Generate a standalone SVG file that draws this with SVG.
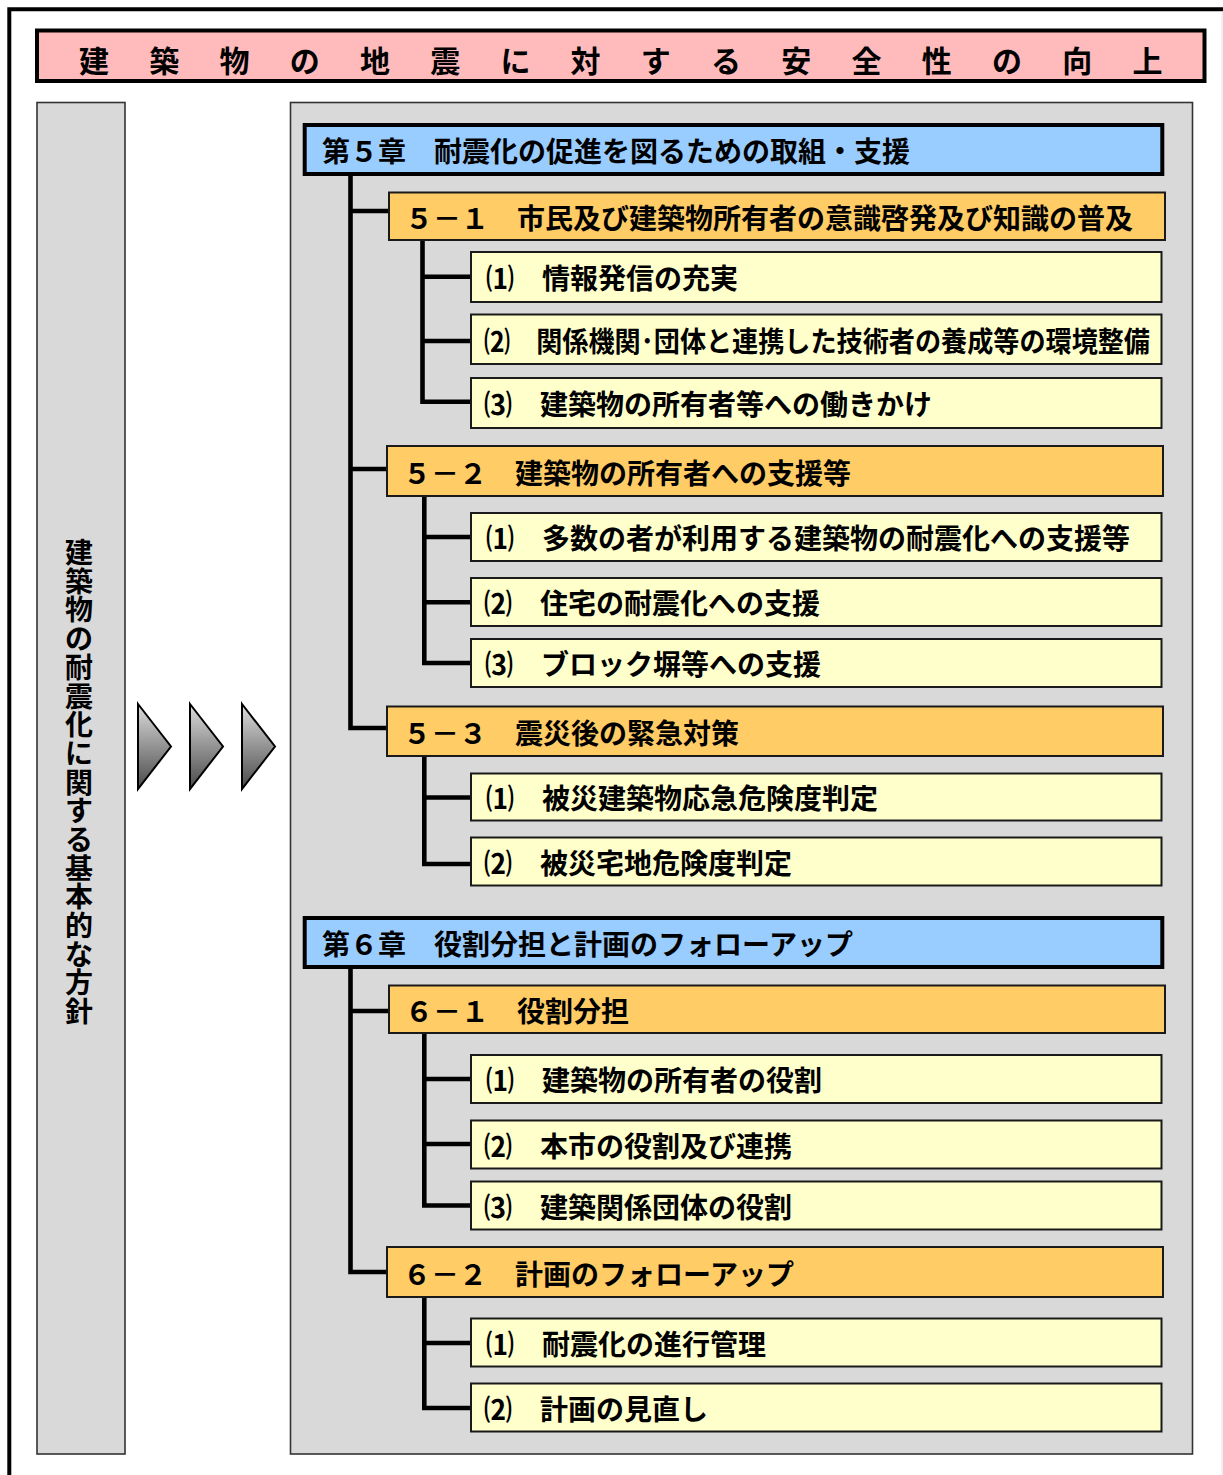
<svg xmlns="http://www.w3.org/2000/svg" width="1223" height="1475" viewBox="0 0 1223 1475">
<defs>
<style>
.t{font-family:"Noto Sans CJK JP","Noto Sans CJK SC",sans-serif;font-weight:700;fill:#000;dominant-baseline:central;}
.f28{font-size:28px;}
.ch{fill:#99CCFF;stroke:#000;stroke-width:4;}
.sec{fill:#FFCC66;stroke:#1a1a1a;stroke-width:2;}
.it{fill:#FFFFCC;stroke:#1a1a1a;stroke-width:2;}
.gray{fill:#D9D9D9;stroke:#333;stroke-width:1.6;}
.conn{fill:none;stroke:#000;stroke-width:4.6;stroke-linejoin:miter;stroke-linecap:butt;}
.tri{fill:url(#triGrad);stroke:#000;stroke-width:2;stroke-linejoin:miter;}
</style>
<linearGradient id="triGrad" x1="0" y1="0" x2="0" y2="1">
<stop offset="0" stop-color="#DCDCDC"/>
<stop offset="1" stop-color="#4A4A4A"/>
</linearGradient>
</defs>
<rect x="0" y="0" width="1223" height="1475" fill="#FFFFFF"/>
<path d="M9.3,1475 V9.3 H1223" fill="none" stroke="#000" stroke-width="4"/>
<line x1="1222" y1="11" x2="1222" y2="1475" stroke="#E2E2E2" stroke-width="1"/>

<g id="title">
<rect x="37" y="30.5" width="1167.5" height="50.5" fill="#FFBBBB" stroke="#000" stroke-width="4"/>
<text class="t" font-size="30" text-anchor="middle" y="59" x="94 164.2 234.5 304.7 374.9 445.2 515.4 585.6 655.8 726.1 796.3 866.5 936.8 1007 1077.2 1147.5">建築物の地震に対する安全性の向上</text>
</g>

<g id="policy">
<rect class="gray" x="37" y="102.5" width="88" height="1351.5"/>
<text class="t f28" text-anchor="middle" x="79 79 79 79 79 79 79 79 79 79 79 79 79 79 79 79 79" y="551 579.7 608.4 637.1 665.8 694.5 723.1 751.8 780.5 809.2 837.9 866.6 895.3 924 952.7 981.4 1010">建築物の耐震化に関する基本的な方針</text>
</g>

<g id="arrows">
<polygon class="tri" points="138,704 171,746.5 138,789"/>
<polygon class="tri" points="190,704 223,746.5 190,789"/>
<polygon class="tri" points="242,704 275,746.5 242,789"/>
</g>

<g id="panel">
<rect class="gray" x="290.5" y="102.5" width="902" height="1351.5"/>
</g>

<g id="connectors">
<path class="conn" d="M350.5,174 V728 H388"/>
<path class="conn" d="M350.5,211 H390"/>
<path class="conn" d="M350.5,469 H388"/>
<path class="conn" d="M422.5,240 V401.7 H471"/>
<path class="conn" d="M422.5,276.7 H471"/>
<path class="conn" d="M422.5,341 H471"/>
<path class="conn" d="M424.3,496 V663 H471"/>
<path class="conn" d="M424.3,537 H471"/>
<path class="conn" d="M424.3,602.3 H471"/>
<path class="conn" d="M424.3,756 V864 H471"/>
<path class="conn" d="M424.3,797.5 H471"/>
<path class="conn" d="M350.5,967 V1272 H388"/>
<path class="conn" d="M350.5,1011 H390"/>
<path class="conn" d="M424.3,1033 V1205.5 H471"/>
<path class="conn" d="M424.3,1079 H471"/>
<path class="conn" d="M424.3,1144 H471"/>
<path class="conn" d="M424.3,1297 V1408 H471"/>
<path class="conn" d="M424.3,1343 H471"/>
</g>

<g id="ch5">
<rect class="ch" x="304.7" y="125" width="857.6" height="49"/>
<text class="t f28" x="322" y="150">第５章　耐震化の促進を図るための取組・支援</text>
</g>
<g id="s5-1">
<rect class="sec" x="389" y="192.5" width="776" height="47.5"/>
<text class="t f28" x="405" y="217">５－１　市民及び建築物所有者の意識啓発及び知識の普及</text>
</g>
<g id="s5-1-1">
<rect class="it" x="471" y="252" width="690.5" height="50"/>
<text class="t f28" x="486" y="277">⑴　情報発信の充実</text>
</g>
<g id="s5-1-2">
<rect class="it" x="471" y="314.5" width="690.5" height="49.5"/>
<text class="t f28" x="484" y="339.5" textLength="666" lengthAdjust="spacingAndGlyphs">⑵　関係機関･団体と連携した技術者の養成等の環境整備</text>
</g>
<g id="s5-1-3">
<rect class="it" x="471" y="378" width="690.5" height="50"/>
<text class="t f28" x="484" y="403">⑶　建築物の所有者等への働きかけ</text>
</g>
<g id="s5-2">
<rect class="sec" x="387" y="446" width="776" height="50"/>
<text class="t f28" x="403" y="471.5">５－２　建築物の所有者への支援等</text>
</g>
<g id="s5-2-1">
<rect class="it" x="471" y="513" width="690.5" height="48"/>
<text class="t f28" x="486" y="537">⑴　多数の者が利用する建築物の耐震化への支援等</text>
</g>
<g id="s5-2-2">
<rect class="it" x="471" y="578" width="690.5" height="48"/>
<text class="t f28" x="484" y="602">⑵　住宅の耐震化への支援</text>
</g>
<g id="s5-2-3">
<rect class="it" x="471" y="639" width="690.5" height="48"/>
<text class="t f28" x="485" y="663">⑶　ブロック塀等への支援</text>
</g>
<g id="s5-3">
<rect class="sec" x="387" y="706.5" width="776" height="49.5"/>
<text class="t f28" x="403" y="731.5">５－３　震災後の緊急対策</text>
</g>
<g id="s5-3-1">
<rect class="it" x="471" y="773.5" width="690.5" height="47"/>
<text class="t f28" x="486" y="797">⑴　被災建築物応急危険度判定</text>
</g>
<g id="s5-3-2">
<rect class="it" x="471" y="837.5" width="690.5" height="48"/>
<text class="t f28" x="484" y="861.5">⑵　被災宅地危険度判定</text>
</g>

<g id="ch6">
<rect class="ch" x="304.7" y="918" width="857.6" height="49"/>
<text class="t f28" x="322" y="943">第６章　役割分担と計画のフォローアップ</text>
</g>
<g id="s6-1">
<rect class="sec" x="389" y="985.5" width="776" height="47.5"/>
<text class="t f28" x="405" y="1010">６－１　役割分担</text>
</g>
<g id="s6-1-1">
<rect class="it" x="471" y="1055" width="690.5" height="48"/>
<text class="t f28" x="486" y="1079">⑴　建築物の所有者の役割</text>
</g>
<g id="s6-1-2">
<rect class="it" x="471" y="1120.5" width="690.5" height="48"/>
<text class="t f28" x="484" y="1144.5">⑵　本市の役割及び連携</text>
</g>
<g id="s6-1-3">
<rect class="it" x="471" y="1181.5" width="690.5" height="48"/>
<text class="t f28" x="484" y="1205.5">⑶　建築関係団体の役割</text>
</g>
<g id="s6-2">
<rect class="sec" x="387" y="1247" width="776" height="50"/>
<text class="t f28" x="403" y="1272.5">６－２　計画のフォローアップ</text>
</g>
<g id="s6-2-1">
<rect class="it" x="471" y="1318.5" width="690.5" height="48"/>
<text class="t f28" x="486" y="1342.5">⑴　耐震化の進行管理</text>
</g>
<g id="s6-2-2">
<rect class="it" x="471" y="1383.5" width="690.5" height="48"/>
<text class="t f28" x="484" y="1407.5">⑵　計画の見直し</text>
</g>
</svg>
